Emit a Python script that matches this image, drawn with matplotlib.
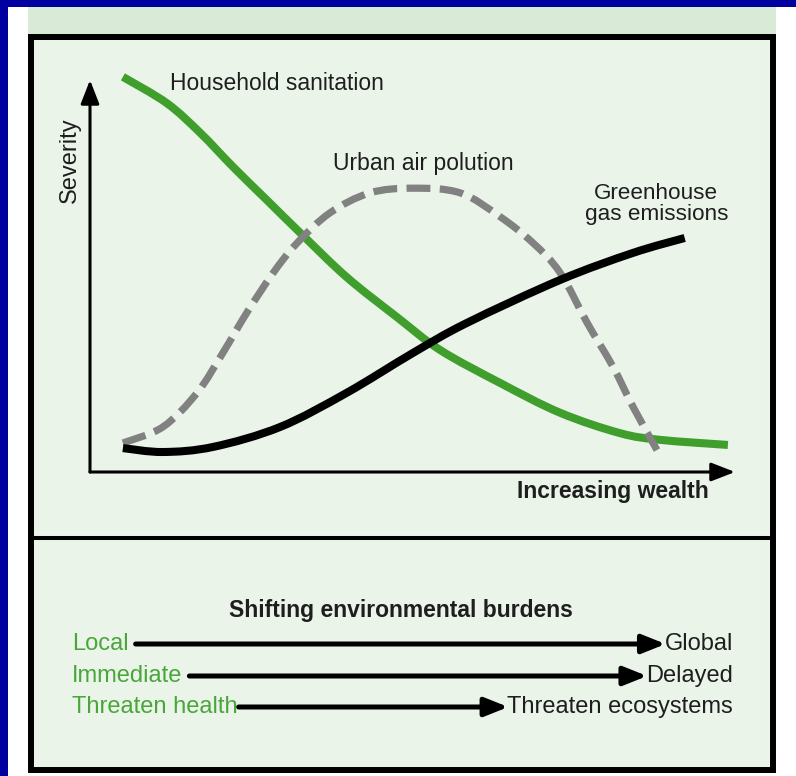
import matplotlib
matplotlib.use('Agg')
import matplotlib.pyplot as plt
import numpy as np
from matplotlib.patches import Rectangle, PathPatch
from matplotlib.path import Path

plt.rcParams['font.family'] = ['Liberation Sans', 'DejaVu Sans']

# curves (wealth 0..10 along the x arrow, severity 0..10 up the y arrow)
wealth_sanitation = [0.51, 1.19, 1.71, 2.22, 2.74, 3.26, 3.98, 4.76, 5.43, 6.36, 7.29, 8.22, 8.84, 9.89]
sev_sanitation = [10.08, 9.41, 8.65, 7.78, 6.94, 6.10, 4.97, 3.95, 3.11, 2.27, 1.51, 0.99, 0.82, 0.69]

wealth_air = [0.51, 1.13, 1.66, 2.06, 2.43, 2.84, 3.21, 3.72, 4.34, 5.01, 5.74, 6.36, 6.87, 7.29, 7.71, 8.11, 8.42, 8.79]
sev_air = [0.74, 1.15, 2.02, 3.04, 4.06, 5.08, 5.84, 6.61, 7.12, 7.24, 7.12, 6.51, 5.84, 5.08, 3.80, 2.68, 1.66, 0.56]

wealth_ghg = [0.51, 1.13, 1.91, 2.95, 3.98, 5.01, 5.84, 7.29, 8.42, 9.22]
sev_ghg = [0.61, 0.51, 0.64, 1.15, 2.02, 3.04, 3.80, 4.90, 5.59, 5.97]

curve_labels = ['Household sanitation', 'Urban air polution', 'Greenhouse\ngas emissions']
axis_labels = ['Increasing wealth', 'Severity']

burden_title = 'Shifting environmental burdens'
burden_from = ['Local', 'Immediate', 'Threaten health']
burden_to = ['Global', 'Delayed', 'Threaten ecosystems']

GREEN = '#3f9e2c'
LABEL_GREEN = '#4aa63a'
GRAY = '#818181'
TXT = '#1e1e1e'
FILL = '#eaf4e9'
BAND = '#d9ebd7'
BLUE = '#0000a0'


def smooth_path(xs, ys):
    # catmull-rom through the points, drawn as cubic bezier segments
    p = np.column_stack([xs, ys])
    verts = [p[0]]
    codes = [Path.MOVETO]
    for i in range(len(p) - 1):
        p0 = p[i - 1] if i > 0 else p[i]
        p3 = p[i + 2] if i + 2 < len(p) else p[i + 1]
        c1 = p[i] + (p[i + 1] - p0) / 6
        c2 = p[i + 1] - (p3 - p[i]) / 6
        verts += [c1, c2, p[i + 1]]
        codes += [Path.CURVE4] * 3
    return Path(verts, codes)


W, H = 796, 776
fig = plt.figure(figsize=(W / 100, H / 100), dpi=100)
fig.patch.set_facecolor('white')

# background / frame in pixel coords
bg = fig.add_axes([0, 0, 1, 1])
bg.set_xlim(0, W)
bg.set_ylim(H, 0)
bg.axis('off')
bg.add_patch(Rectangle((0, 0), W, 7, color=BLUE, lw=0))
bg.add_patch(Rectangle((0, 0), 8, H, color=BLUE, lw=0))
bg.add_patch(Rectangle((28, 7), 748, 29, color=BAND, lw=0))
bg.add_patch(Rectangle((30.5, 36.5), 742.5, 733.5, facecolor=FILL, edgecolor='black', lw=4.3))
bg.plot([30.5, 773], [537.5, 537.5], color='black', lw=2.9, solid_capstyle='butt')

# chart axes: origin at (90, 472) px, tips at x=735 px and y=80 px
ax = fig.add_axes([90 / W, 1 - 472 / H, (735 - 90) / W, (472 - 80) / H])
ax.set_xlim(0, 10)
ax.set_ylim(0, 10)
ax.patch.set_alpha(0)
ax.axis('off')

arrow = dict(arrowstyle='-|>,head_length=0.9,head_width=0.35', color='black', lw=2.2,
             mutation_scale=16, shrinkA=0, shrinkB=0)
ax.annotate('', xy=(10, 0), xytext=(0, 0), arrowprops=arrow, annotation_clip=False)
ax.annotate('', xy=(0, 10), xytext=(0, 0), arrowprops=arrow, annotation_clip=False)

ax.add_patch(PathPatch(smooth_path(wealth_sanitation, sev_sanitation), facecolor='none',
                       edgecolor=GREEN, lw=5.8, capstyle='butt', joinstyle='round', clip_on=False))
ax.add_patch(PathPatch(smooth_path(wealth_air, sev_air), facecolor='none', edgecolor=GRAY,
                       lw=5.2, linestyle=(0, (3.3, 1.3)), capstyle='butt', joinstyle='round',
                       clip_on=False))
ax.add_patch(PathPatch(smooth_path(wealth_ghg, sev_ghg), facecolor='none', edgecolor='black',
                       lw=5.8, capstyle='butt', joinstyle='round', clip_on=False))

ax.text(1.24, 9.92, curve_labels[0], fontsize=16.5, color=TXT, ha='left', va='center')
ax.text(5.16, 7.88, curve_labels[1], fontsize=16.5, color=TXT, ha='center', va='center')
ax.text(8.78, 6.84, curve_labels[2], fontsize=16.2, color=TXT, ha='center', va='center',
        linespacing=1.0)
ax.text(8.11, -0.51, axis_labels[0], fontsize=16.5, color=TXT, ha='center', va='center',
        fontweight='bold')
ax.text(-0.31, 7.96, axis_labels[1], fontsize=17, color=TXT, ha='center', va='center',
        rotation=90)

# lower panel
bg.text(401, 611, burden_title, fontsize=16.5, color=TXT, ha='center', va='center',
        fontweight='bold')
rows_y = [644, 676, 707]
left_txt = []
right_txt = []
for y, a, b in zip(rows_y, burden_from, burden_to):
    left_txt.append(bg.text(72, y, a, fontsize=17, color=LABEL_GREEN, ha='left', va='center'))
    right_txt.append(bg.text(733, y, b, fontsize=17, color=TXT, ha='right', va='center'))

fig.canvas.draw()
r = fig.canvas.get_renderer()
inv = bg.transData.inverted()
row_gap = [7, 7, 1]
for y, lt, rt, g in zip(rows_y, left_txt, right_txt, row_gap):
    x0 = inv.transform(lt.get_window_extent(r).get_points())[1][0] + g
    x1 = inv.transform(rt.get_window_extent(r).get_points())[0][0] + 1
    bg.annotate('', xy=(x1, y), xytext=(x0, y),
                arrowprops=dict(arrowstyle='-|>,head_length=1.0,head_width=0.4', color='black',
                                lw=3.6, mutation_scale=14, shrinkA=0, shrinkB=0))

fig.savefig('out.png', dpi=100, facecolor=fig.get_facecolor())
